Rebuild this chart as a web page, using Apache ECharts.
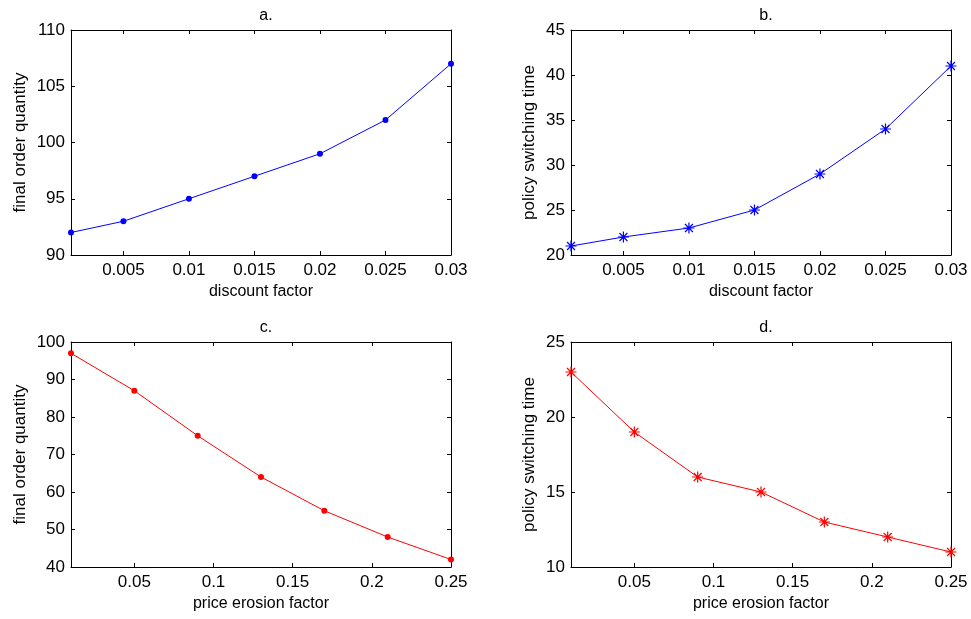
<!DOCTYPE html>
<html>
<head>
<meta charset="utf-8">
<script src="https://cdn.jsdelivr.net/npm/echarts@6/dist/echarts.min.js"></script>
<style>
  html, body { margin: 0; padding: 0; background: #fff; }
  #chart { width: 971px; height: 619px; }
</style>
</head>
<body>
<div id="chart"></div>
<script>
// data
const discountX = [0.001, 0.005, 0.01, 0.015, 0.02, 0.025, 0.03];
const discountTicks = [0.005, 0.01, 0.015, 0.02, 0.025, 0.03];
const orderQtyByDiscount = [92, 93, 95, 97, 99, 102, 107];
const switchTimeByDiscount = [21, 22, 23, 25, 29, 34, 41];

const erosionX = [0.01, 0.05, 0.09, 0.13, 0.17, 0.21, 0.25];
const erosionTicks = [0.05, 0.1, 0.15, 0.2, 0.25];
const orderQtyByErosion = [97, 87, 75, 64, 55, 48, 42];
const switchTimeByErosion = [23, 19, 16, 15, 13, 12, 11];

const FONT = 'Liberation Sans, Arial, sans-serif';
const asterisk = 'path://M0,-5L0,5M-5,0L5,0M-3.6,-3.6L3.6,3.6M-3.6,3.6L3.6,-3.6';

const panels = [
  {title: 'a.', left: 71, top: 30, xs: discountX, ys: orderQtyByDiscount, xTicks: discountTicks,
   xName: 'discount factor', yName: 'final order quantity', yMin: 90, yMax: 110, yStep: 5,
   color: '#0000ff', marker: 'circle', nameGap: 42},
  {title: 'b.', left: 571, top: 30, xs: discountX, ys: switchTimeByDiscount, xTicks: discountTicks,
   xName: 'discount factor', yName: 'policy switching time', yMin: 20, yMax: 45, yStep: 5,
   color: '#0000ff', marker: 'star', nameGap: 33},
  {title: 'c.', left: 71, top: 342, xs: erosionX, ys: orderQtyByErosion, xTicks: erosionTicks,
   xName: 'price erosion factor', yName: 'final order quantity', yMin: 40, yMax: 100, yStep: 10,
   color: '#ff0000', marker: 'circle', nameGap: 42},
  {title: 'd.', left: 571, top: 342, xs: erosionX, ys: switchTimeByErosion, xTicks: erosionTicks,
   xName: 'price erosion factor', yName: 'policy switching time', yMin: 10, yMax: 25, yStep: 5,
   color: '#ff0000', marker: 'star', nameGap: 33},
];

const W = 380, H = 225;
const option = {
  animation: false,
  textStyle: {fontFamily: FONT},
  title: [], grid: [], xAxis: [], yAxis: [], series: []
};

const lineAxis = {show: true, lineStyle: {color: '#000', width: 1}};
const tick = (vals) => ({show: true, inside: true, length: 4, lineStyle: {color: '#000'}, customValues: vals});

panels.forEach((p, i) => {
  option.title.push({
    text: p.title, left: p.left + W / 2, top: p.top - 27, textAlign: 'center',
    textStyle: {fontFamily: FONT, fontSize: 16, fontWeight: 'normal', color: '#000'}
  });
  option.grid.push({left: p.left, top: p.top, width: W, height: H});
  const xMin = p.xs[0], xMax = p.xs[p.xs.length - 1];
  // bottom axis
  option.xAxis.push({
    type: 'value', gridIndex: i, position: 'bottom', min: xMin, max: xMax,
    name: p.xName, nameLocation: 'middle', nameGap: 29,
    nameTextStyle: {fontFamily: FONT, fontSize: 16, color: '#000'},
    axisLine: lineAxis, axisTick: tick(p.xTicks), splitLine: {show: false},
    axisLabel: {customValues: p.xTicks, margin: 7, fontSize: 17, color: '#000', fontFamily: FONT,
      formatter: v => String(v)}
  });
  // top axis, ticks only
  option.xAxis.push({
    type: 'value', gridIndex: i, position: 'top', min: xMin, max: xMax,
    axisLine: lineAxis, axisTick: tick(p.xTicks), splitLine: {show: false},
    axisLabel: {show: false}
  });
  const yVals = [];
  for (let v = p.yMin; v <= p.yMax; v += p.yStep) yVals.push(v);
  option.yAxis.push({
    type: 'value', gridIndex: i, position: 'left', min: p.yMin, max: p.yMax, interval: p.yStep,
    name: p.yName, nameLocation: 'middle', nameGap: p.nameGap,
    nameTextStyle: {fontFamily: FONT, fontSize: 17, color: '#000'},
    axisLine: lineAxis, axisTick: tick(yVals), splitLine: {show: false},
    axisLabel: {margin: 6, fontSize: 17, color: '#000', fontFamily: FONT}
  });
  option.yAxis.push({
    type: 'value', gridIndex: i, position: 'right', min: p.yMin, max: p.yMax, interval: p.yStep,
    axisLine: lineAxis, axisTick: tick(yVals), splitLine: {show: false},
    axisLabel: {show: false}
  });
  const star = p.marker === 'star';
  option.series.push({
    type: 'line', xAxisIndex: i * 2, yAxisIndex: i * 2,
    data: p.xs.map((x, k) => [x, p.ys[k]]),
    symbol: star ? asterisk : 'circle',
    symbolSize: star ? 11 : 6,
    showAllSymbol: true,
    lineStyle: {color: p.color, width: 1},
    itemStyle: star
      ? {color: 'none', borderColor: p.color, borderWidth: 1.2}
      : {color: p.color, borderWidth: 0},
    emphasis: {disabled: true}
  });
});

const myChart = echarts.init(document.getElementById('chart'));
myChart.setOption(option);
</script>
</body>
</html>
